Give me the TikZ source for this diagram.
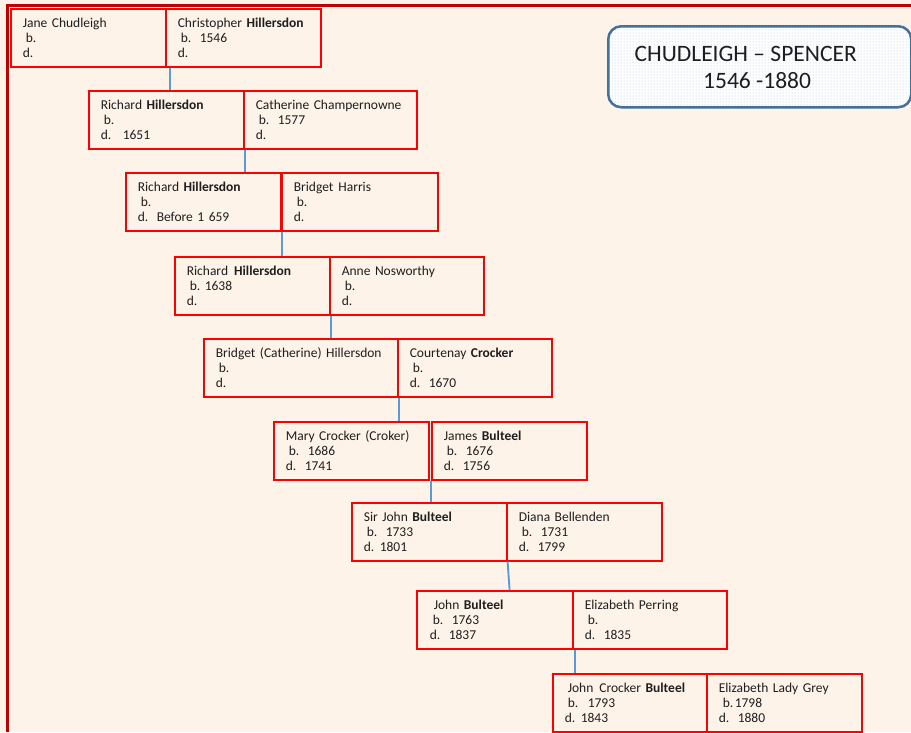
\documentclass[tikz,border=0pt]{standalone}
\usepackage{fontspec}
\setmainfont{Carlito}
\usetikzlibrary{patterns}
\definecolor{bg}{RGB}{253,243,233}
\definecolor{framered}{RGB}{192,0,0}
\definecolor{boxred}{RGB}{255,0,0}
\definecolor{connblue}{RGB}{91,155,213}
\definecolor{tborder}{RGB}{65,113,156}
\definecolor{tdots}{RGB}{170,192,228}
\definecolor{ink}{RGB}{30,30,30}
\newcommand\gp{\hspace{8.5pt}}
\newcommand\ib{\hspace*{3pt}}
\newcommand\fl[1]{\mbox{#1}}
\begin{document}
\begin{tikzpicture}[x=1pt,y=-1pt,
  pbox/.style={draw=boxred, line width=1.6pt, anchor=north west,
    minimum height=58pt, inner xsep=12pt, inner ysep=0pt, align=left,
    text=ink, font=\fontsize{13.5}{15}\selectfont, text width=#1},
  conn/.style={draw=connblue, line width=1.9pt},
  titlebox/.style={draw=tborder, line width=2.5pt, rounded corners=13pt,
    preaction={fill=white}, pattern=dots, pattern color=tdots,
    anchor=north west, inner sep=0pt},
  titletext/.style={anchor=base west, inner sep=0pt, text=ink,
    font=\fontsize{23.5}{28}\selectfont}
]
\fill[bg] (0,0) rectangle (911,732);
\useasboundingbox (0,0) rectangle (911,732);
\draw[framered, line width=3.5pt] (7.5,732) -- (7.5,5.5) -- (911,5.5);

% title
\node[titlebox, minimum width=303pt, minimum height=81pt] (title) at (607,25) {};
\node[titletext] (titleA) at (634.5,61.7) {CHUDLEIGH – SPENCER};
\node[titletext] (titleB) at (703,88.3) {1546 -1880};

% row 1
\node[pbox=131pt] (jane) at (10,8) {\fl{Jane Chudleigh}\\\ib b.\\d.};
\node[pbox=131pt] (chris) at (165,8) {\fl{Christopher \textbf{Hillersdon}}\\\ib b.\gp1546\\d.};
% row 2
\node[pbox=131pt] (rich1) at (88,90) {\fl{Richard \textbf{Hillersdon}}\\\ib b.\\d.\hspace{11.5pt}1651};
\node[pbox=149pt] (cath) at (243,90) {\fl{Catherine Champernowne}\\\ib b.\gp1577\\d.};
% row 3
\node[pbox=131pt] (rich2) at (125,172) {\fl{Richard \textbf{Hillersdon}}\\\ib b.\\d.\gp\fl{Before 1 659}};
\node[pbox=132pt] (bharris) at (281,172) {\fl{Bridget\hspace{5pt}Harris}\\\ib b.\\d.};
% row 4
\node[pbox=131pt] (rich3) at (174,256) {\fl{Richard\hspace{6pt}\textbf{Hillersdon}}\\\ib b.\hspace{4.5pt}1638\\d.};
\node[pbox=130pt] (anne) at (329,256) {\fl{Anne Nosworthy}\\\ib b.\\d.};
% row 5
\node[pbox=170pt] (bcath) at (203,338) {\fl{Bridget (Catherine) Hillersdon}\\\ib b.\\d.};
\node[pbox=130pt] (court) at (397,338) {\fl{Courtenay \textbf{Crocker}}\\\ib b.\\d.\gp1670};
% row 6
\node[pbox=131pt] (mary) at (273,421) {\fl{Mary Crocker (Croker)}\\\ib b.\gp1686\\d.\gp1741};
\node[pbox=131pt] (james) at (431,421) {\fl{James \textbf{Bulteel}}\\\ib b.\gp1676\\d.\gp1756};
% row 7
\node[pbox=131pt] (sirjohn) at (351,502) {\fl{Sir John \textbf{Bulteel}}\\\ib b.\gp1733\\d.\hspace{5.5pt}1801};
\node[pbox=131pt] (diana) at (506,502) {\fl{Diana Bellenden}\\\ib b.\gp1731\\d.\gp1799};
% row 8
\node[pbox=132pt] (johnb) at (416,590) {\hspace*{5pt}\fl{John \textbf{Bulteel}}\\\hspace*{4pt}b.\gp1763\\\hspace*{1pt}d.\gp1837};
\node[pbox=130pt] (eperr) at (572,590) {\fl{Elizabeth Perring}\\\ib b.\\d.\gp1835};
% row 9
\node[pbox=130pt] (jcb) at (552,673) {\hspace*{3pt}\fl{John\hspace{6pt}Crocker \textbf{Bulteel}}\\\hspace*{3pt}b.\hspace{9.5pt}1793\\d.\hspace{5.5pt}1843};
\node[pbox=131pt] (egrey) at (706,673) {\fl{Elizabeth Lady Grey}\\\hspace*{4pt}b.\hspace{1.5pt}1798\\d.\gp1880};

% connectors
\draw[conn] ([xshift=3pt]jane.south east) -- ([xshift=3pt]jane.south east |- rich1.north);
\draw[conn] (rich1.south east) -- (rich1.south east |- rich2.north);
\draw[conn] (rich2.south east) -- (rich2.south east |- rich3.north);
\draw[conn] (rich3.south east) -- (rich3.south east |- bcath.north);
\draw[conn] (bcath.south east) -- (bcath.south east |- mary.north);
\draw[conn] ([xshift=1.5pt]mary.south east) -- ([xshift=1.5pt]mary.south east |- sirjohn.north);
\draw[conn] (sirjohn.south east) -- ([xshift=2pt]sirjohn.south east |- johnb.north);
\draw[conn] ([xshift=1pt]johnb.south east) -- ([xshift=1pt]johnb.south east |- jcb.north);
\end{tikzpicture}
\end{document}
